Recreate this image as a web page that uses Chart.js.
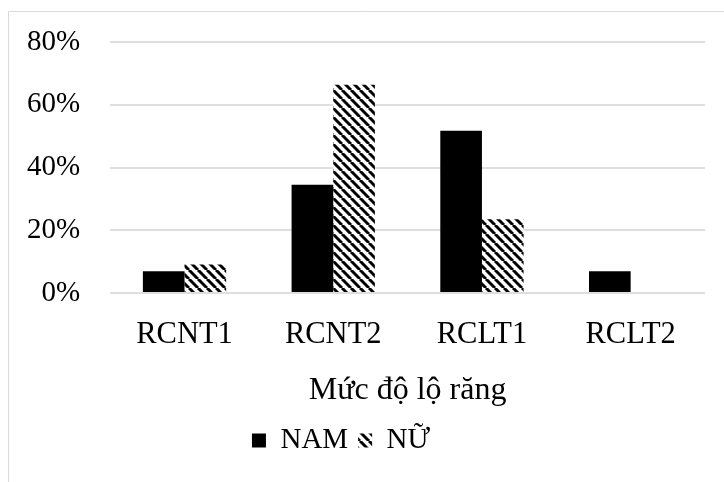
<!DOCTYPE html>
<html>
<head>
<meta charset="utf-8">
<script src="https://cdn.jsdelivr.net/npm/chart.js@4"></script>
<style>
body { margin: 0; background: #fff; }
</style>
</head>
<body>
<canvas id="barchart" width="724" height="482"></canvas>
<script>
var categories = ["RCNT1", "RCNT2", "RCLT1", "RCLT2"];
var namValues = [6.9, 34.5, 51.7, 6.9];
var nuValues = [9.1, 66.4, 23.5, 0];
var seriesNames = ["NAM", "NỮ"];
var axisTitle = "Mức độ lộ răng";
var yMax = 80;
var yStep = 20;

var fontFamily = "'Liberation Serif', 'Times New Roman', serif";

// diagonal hatch for the second series
function makeHatch() {
    var p = 9;
    var c = document.createElement("canvas");
    c.width = p;
    c.height = p;
    var g = c.getContext("2d");
    g.fillStyle = "#fff";
    g.fillRect(0, 0, p, p);
    g.strokeStyle = "#000";
    g.lineWidth = 3;
    for (var k = -1; k <= 1; k++) {
        g.beginPath();
        g.moveTo(k * p, 0);
        g.lineTo(k * p + p, p);
        g.stroke();
    }
    return g.createPattern(c, "repeat");
}

var hatch = makeHatch();

// light frame at left and top like the pasted excel chart
var framePlugin = {
    id: "frame",
    beforeDraw: function (chart) {
        var ctx = chart.ctx;
        ctx.save();
        ctx.strokeStyle = "#d9d9d9";
        ctx.lineWidth = 1;
        ctx.beginPath();
        ctx.moveTo(8.5, chart.height);
        ctx.lineTo(8.5, 11.5);
        ctx.lineTo(chart.width, 11.5);
        ctx.stroke();
        ctx.restore();
    }
};

// legend sits a bit left of the plot centre in the original
var legendShift = {
    id: "legendShift",
    afterLayout: function (chart) {
        chart.legend.left -= 24;
        chart.legend.right -= 24;
    }
};

var chart = document.getElementById("barchart").getContext("2d");
var myBarChart = new Chart(chart, {
    type: "bar",
    data: {
        labels: categories,
        datasets: [{
            label: seriesNames[0],
            data: namValues,
            backgroundColor: "#000",
            categoryPercentage: 0.56,
            barPercentage: 1.0
        }, {
            label: seriesNames[1],
            data: nuValues,
            backgroundColor: hatch,
            categoryPercentage: 0.56,
            barPercentage: 1.0
        }]
    },
    options: {
        responsive: false,
        animation: false,
        layout: { padding: { left: 25, right: 19, top: 42, bottom: 17 } },
        plugins: {
            tooltip: { enabled: false },
            legend: {
                position: "bottom",
                labels: {
                    color: "#000",
                    font: { family: fontFamily, size: 29 },
                    boxWidth: 14,
                    boxHeight: 14,
                    padding: 10
                }
            }
        },
        scales: {
            x: {
                grid: { display: false },
                border: { display: false },
                ticks: {
                    color: "#000",
                    font: { family: fontFamily, size: 30.5 },
                    padding: 16,
                    maxRotation: 0
                },
                title: {
                    display: true,
                    text: axisTitle,
                    color: "#000",
                    font: { family: fontFamily, size: 32 },
                    padding: { top: 2, bottom: 6 }
                }
            },
            y: {
                min: 0,
                max: yMax,
                border: { display: false },
                grid: { color: "#dedede", lineWidth: 2, drawTicks: true, tickLength: 28, tickColor: "rgba(0,0,0,0)" },
                ticks: {
                    stepSize: yStep,
                    color: "#000",
                    font: { family: fontFamily, size: 29 },
                    padding: 2,
                    callback: function (v) { return v + "%"; }
                }
            }
        }
    },
    plugins: [framePlugin, legendShift]
});
</script>
</body>
</html>
